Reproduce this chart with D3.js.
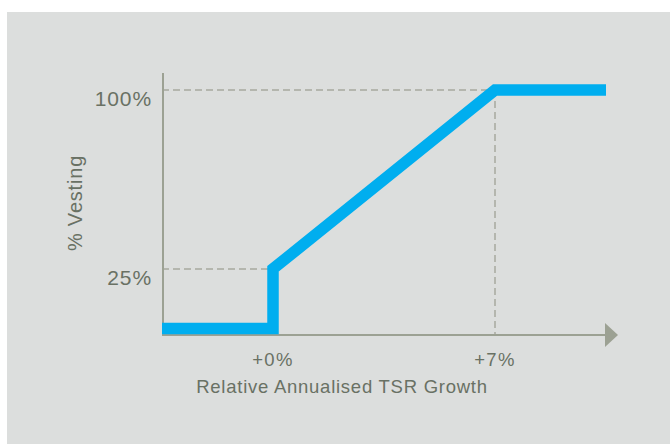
<!DOCTYPE html>
<html>
<head>
<meta charset="utf-8">
<script src="https://cdn.jsdelivr.net/npm/d3@7"></script>
<style>
  html, body { margin: 0; padding: 0; background: #ffffff; }
  #chart { width: 670px; height: 444px; }
  text { font-family: "Liberation Sans", Arial, Helvetica, sans-serif; fill: #697164; }
</style>
</head>
<body>
<div id="chart"></div>
<script>
// TSR growth (% p.a., relative) vs vesting (%)
const growth = [-3.5, 0, 0, 7, 10.5];
const vesting = [0, 0, 25, 100, 100];
const xTicks = [0, 7];
const xTickLabels = ["+0%", "+7%"];
const yTicks = [25, 100];
const yTickLabels = ["25%", "100%"];

const width = 670, height = 444;

const svg = d3.select("#chart")
  .append("svg")
  .attr("width", width)
  .attr("height", height);

// grey panel
svg.append("rect")
  .attr("x", 7)
  .attr("y", 12)
  .attr("width", width - 7)
  .attr("height", height - 12)
  .attr("fill", "#dcdedd");

const xScale = d3.scaleLinear()
  .domain([-3.5, 10.5])
  .range([162, 606]);

const yScale = d3.scaleLinear()
  .domain([0, 100])
  .range([328.5, 90]);

const axisColor = "#9ca193";
const dashColor = "#a6a99f";
const axisY = 335;
const axisX = 163;

// dashed guide lines
const guides = [
  { x1: xScale(-3.5), y1: yScale(yTicks[0]), x2: xScale(xTicks[0]), y2: yScale(yTicks[0]) },
  { x1: xScale(-3.5), y1: yScale(yTicks[1]), x2: xScale(xTicks[1]), y2: yScale(yTicks[1]) },
  { x1: xScale(xTicks[1]), y1: yScale(yTicks[1]), x2: xScale(xTicks[1]), y2: axisY }
];
svg.selectAll(".guide")
  .data(guides)
  .enter()
  .append("line")
  .attr("class", "guide")
  .attr("x1", d => d.x1)
  .attr("y1", d => d.y1)
  .attr("x2", d => d.x2)
  .attr("y2", d => d.y2)
  .attr("stroke", dashColor)
  .attr("stroke-width", 1.5)
  .attr("stroke-dasharray", "7 4");

// axes
svg.append("line")
  .attr("x1", axisX).attr("x2", axisX)
  .attr("y1", 73).attr("y2", axisY + 1)
  .attr("stroke", axisColor)
  .attr("stroke-width", 2);

svg.append("line")
  .attr("x1", axisX).attr("x2", 606)
  .attr("y1", axisY).attr("y2", axisY)
  .attr("stroke", axisColor)
  .attr("stroke-width", 2);

svg.append("path")
  .attr("d", `M605,${axisY - 12}L618,${axisY}L605,${axisY + 12}Z`)
  .attr("fill", axisColor);

// vesting line
const line = d3.line()
  .x((d, i) => xScale(growth[i]))
  .y(d => yScale(d));

svg.append("path")
  .datum(vesting)
  .attr("d", line)
  .attr("fill", "none")
  .attr("stroke", "#00aeef")
  .attr("stroke-width", 11.5)
  .attr("stroke-linejoin", "miter")
  .attr("stroke-linecap", "butt");

// tick labels
svg.selectAll(".xlab")
  .data(xTicks)
  .enter()
  .append("text")
  .attr("class", "xlab")
  .attr("x", d => xScale(d))
  .attr("y", 366)
  .attr("text-anchor", "middle")
  .attr("font-size", "18.5px")
  .attr("letter-spacing", "1.4px")
  .text((d, i) => xTickLabels[i]);

svg.selectAll(".ylab")
  .data(yTicks)
  .enter()
  .append("text")
  .attr("class", "ylab")
  .attr("x", 152)
  .attr("y", d => yScale(d) + 16)
  .attr("text-anchor", "end")
  .attr("font-size", "21px")
  .attr("letter-spacing", "0.9px")
  .text((d, i) => yTickLabels[i]);

// axis titles
svg.append("text")
  .attr("x", 342)
  .attr("y", 393)
  .attr("text-anchor", "middle")
  .attr("font-size", "18.5px")
  .attr("letter-spacing", "0.75px")
  .text("Relative Annualised TSR Growth");

svg.append("text")
  .attr("transform", "translate(82,203) rotate(-90)")
  .attr("text-anchor", "middle")
  .attr("font-size", "20px")
  .attr("letter-spacing", "0.8px")
  .text("% Vesting");
</script>
</body>
</html>
